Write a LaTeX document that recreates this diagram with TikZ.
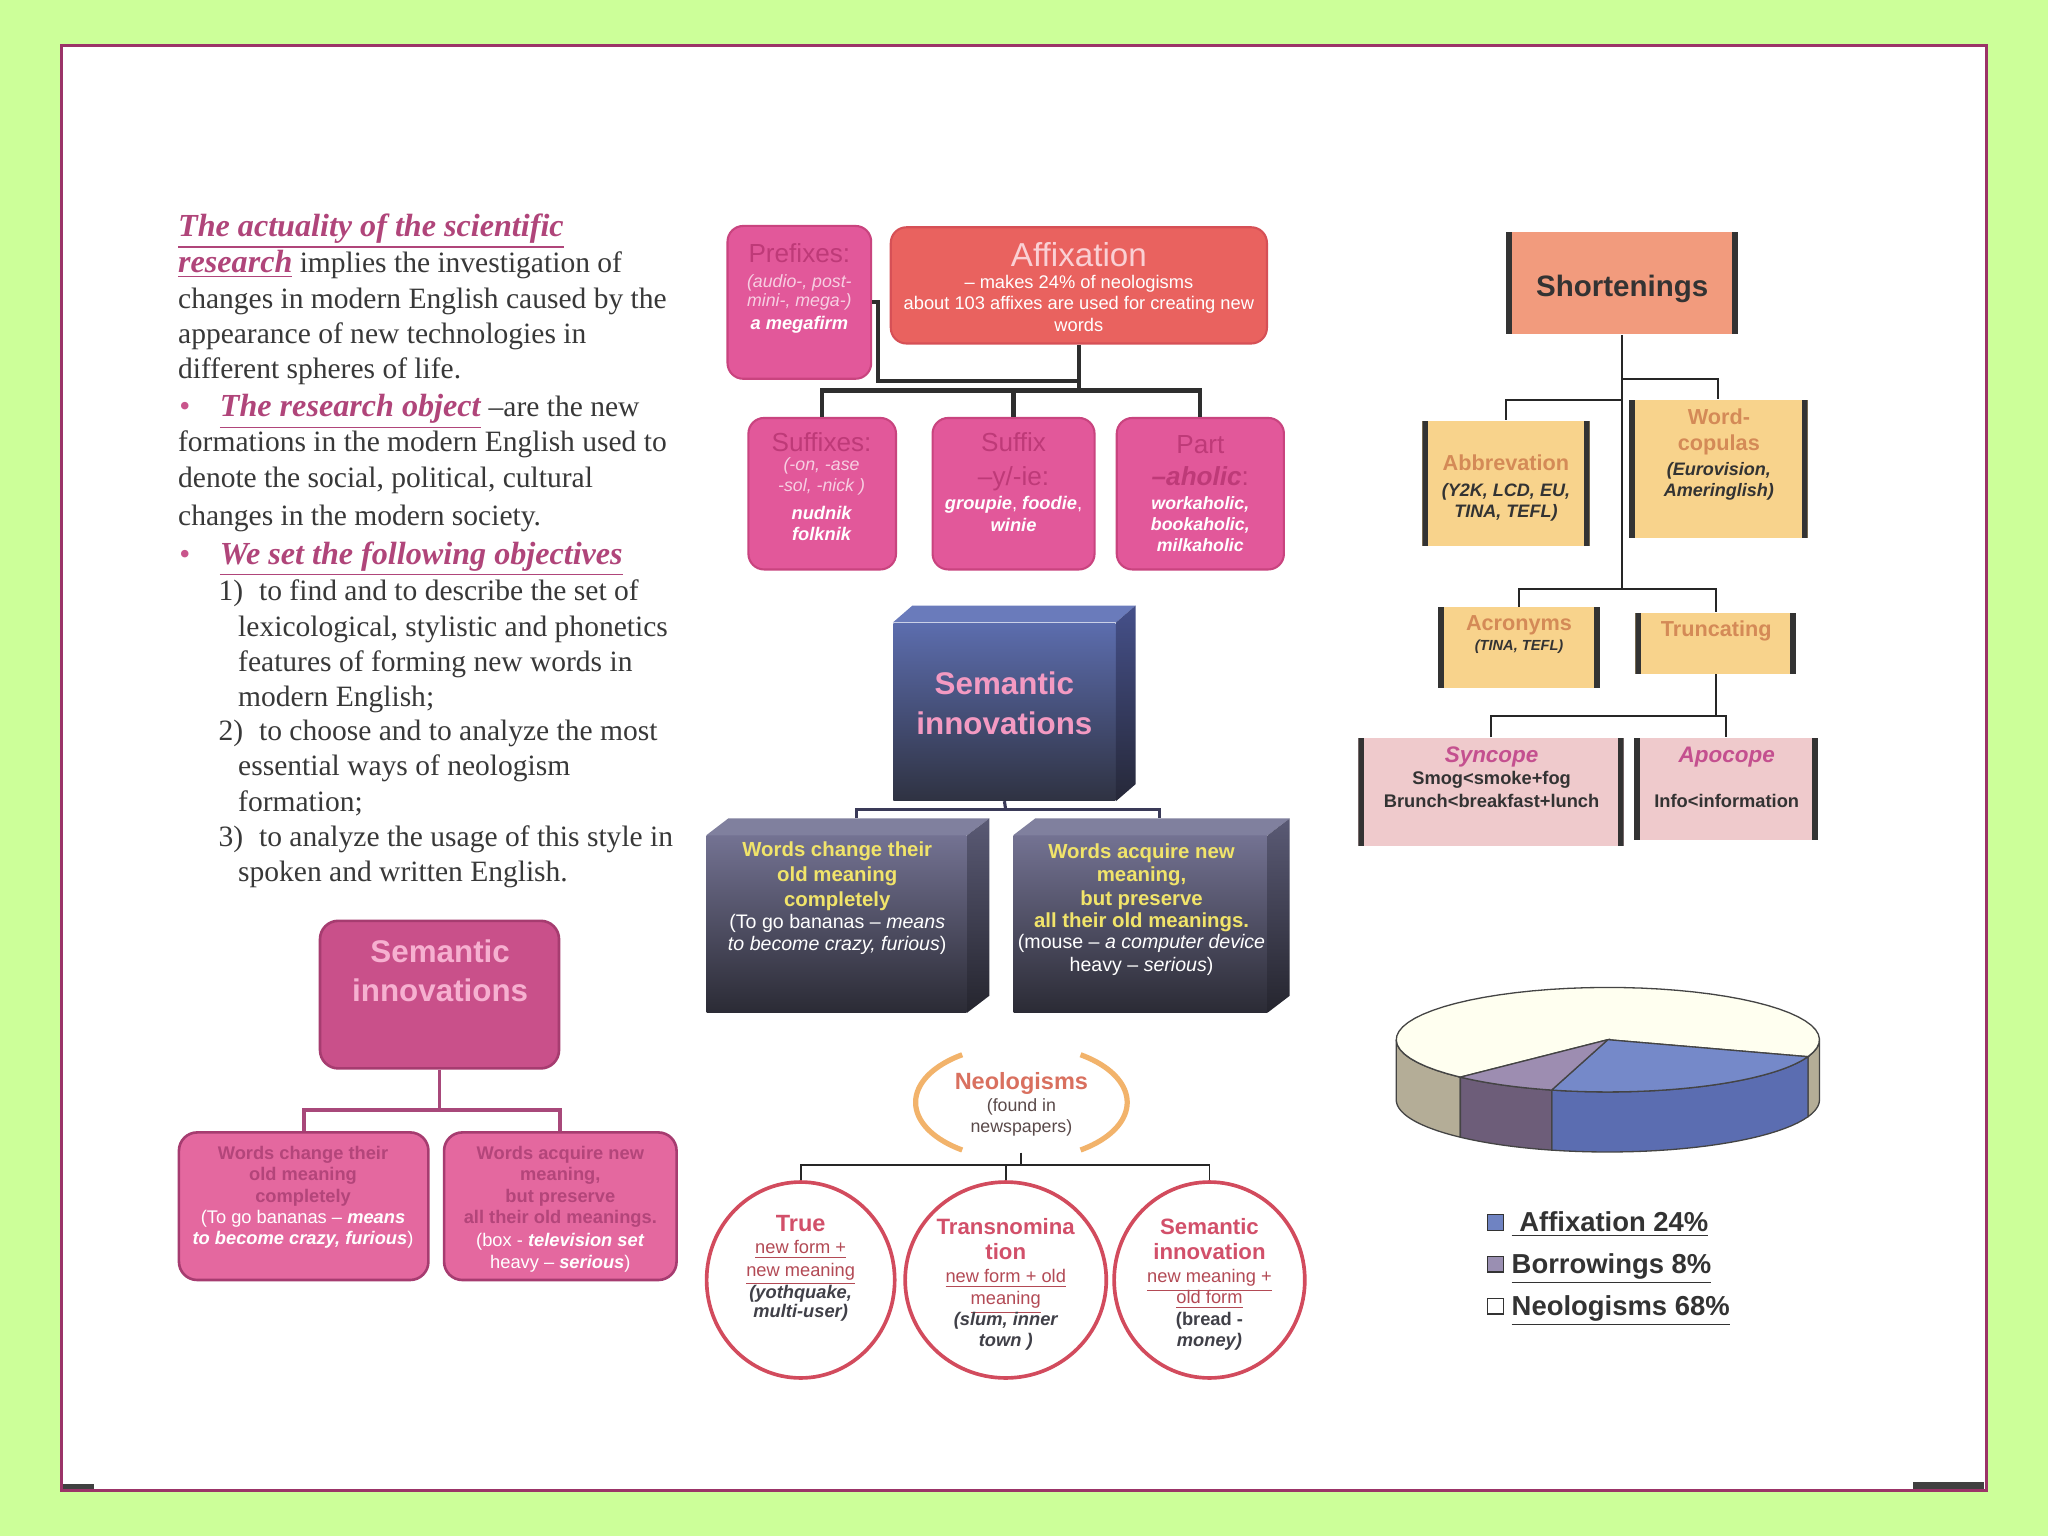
\documentclass[tikz,border=0pt]{standalone}
\usepackage{fontspec}
\setmainfont{Liberation Serif}
\setsansfont{Liberation Sans}
\usetikzlibrary{shapes.geometric}
\definecolor{bggreen}{HTML}{CCFF99}
\definecolor{framec}{HTML}{9B3468}
\definecolor{bodytxt}{HTML}{383838}
\definecolor{headc}{HTML}{B0457A}
\definecolor{bulletc}{HTML}{C9558C}
\definecolor{pinkfill}{HTML}{E2589A}
\definecolor{pinkbd}{HTML}{C9447F}
\definecolor{pinkhdr}{HTML}{BE3A78}
\definecolor{pinklt}{HTML}{F7CFE2}
\definecolor{afffill}{HTML}{E9625F}
\definecolor{affbd}{HTML}{D65056}
\definecolor{afftitle}{HTML}{FAD0D4}
\definecolor{connd}{HTML}{2E2E2E}
\definecolor{bluetop}{HTML}{5C6DAE}
\definecolor{bluebot}{HTML}{2F3242}
\definecolor{bluetf}{HTML}{6A7BBB}
\definecolor{bluest}{HTML}{45508A}
\definecolor{bluesb}{HTML}{262838}
\definecolor{graytop}{HTML}{737292}
\definecolor{graybot}{HTML}{2B2B35}
\definecolor{graytf}{HTML}{80809E}
\definecolor{grayst}{HTML}{5A5A75}
\definecolor{graysb}{HTML}{25252E}
\definecolor{semtxt}{HTML}{F49AC2}
\definecolor{ylw}{HTML}{F1E46A}
\definecolor{navyl}{HTML}{3A3A58}
\definecolor{neoarc}{HTML}{F2B36B}
\definecolor{neotxt}{HTML}{D9705F}
\definecolor{neosub}{HTML}{5A4A4A}
\definecolor{circc}{HTML}{D24B5D}
\definecolor{circtitle}{HTML}{D2506A}
\definecolor{circul}{HTML}{B34A55}
\definecolor{circex}{HTML}{404048}
\definecolor{lsfill}{HTML}{C9508A}
\definecolor{lsbd}{HTML}{A63C70}
\definecolor{lstxt}{HTML}{F6B0D0}
\definecolor{lcfill}{HTML}{E4689F}
\definecolor{lcbd}{HTML}{B8487E}
\definecolor{lcdark}{HTML}{B3457A}
\definecolor{lsline}{HTML}{A8487A}
\definecolor{shfill}{HTML}{F29B7D}
\definecolor{yfill}{HTML}{F8D38C}
\definecolor{ytitle}{HTML}{D48A57}
\definecolor{dtxt}{HTML}{333333}
\definecolor{synfill}{HTML}{EFCACC}
\definecolor{syntitle}{HTML}{C4508F}
\definecolor{barc}{HTML}{333333}
\definecolor{neotop}{HTML}{FFFFF0}
\definecolor{neoside}{HTML}{B4AD97}
\definecolor{afftop}{HTML}{7589C9}
\definecolor{affside}{HTML}{5B6DB1}
\definecolor{bortop}{HTML}{9D8DB1}
\definecolor{borside}{HTML}{6D5D79}
\definecolor{pieline}{HTML}{444444}
\definecolor{legaff}{HTML}{6F83C2}
\definecolor{legbor}{HTML}{9A8FB2}
\newcommand{\fsz}[1]{\fontsize{#1}{#1}\selectfont}
\newcommand{\hdg}[1]{{\fontsize{12.3}{13}\selectfont\textcolor{headc}{\underline{\textbf{\textit{#1}}}}}}
\newcommand{\pieside}[3]{\filldraw[#1,draw=pieline,line width=0.5pt] plot[domain=#2:#3,samples=25] ({1231+162*cos(\x)},{796+40*sin(\x)}) -- plot[domain=#3:#2,samples=25] ({1231+162*cos(\x)},{842+40*sin(\x)}) -- cycle;}
\newcommand{\pietop}[3]{\filldraw[#1,draw=pieline,line width=0.5pt] (1231,796) -- plot[domain=#2:#3,samples=50] ({1231+162*cos(\x)},{796+40*sin(\x)}) -- cycle;}
\begin{document}
\begin{tikzpicture}[x=0.5pt,y=-0.5pt,
  txt/.style={anchor=base, inner sep=0pt, font=\sffamily},
  body/.style={anchor=base west, inner sep=0pt, font=\fsz{11.3}, text=bodytxt},
  pinkbox/.style={draw=pinkbd, fill=pinkfill, line width=0.8pt, rounded corners=6pt, inner sep=0pt},
  affbox/.style={draw=affbd, fill=afffill, line width=0.8pt, rounded corners=6pt, inner sep=0pt},
  affline/.style={draw=connd, line width=1.6pt},
  bluebox/.style={top color=bluetop, bottom color=bluebot, inner sep=0pt},
  graybox/.style={top color=graytop, bottom color=graybot, inner sep=0pt},
  navyline/.style={draw=navyl, line width=1.2pt},
  thinline/.style={draw=black!85, line width=0.7pt},
  circ/.style={ellipse, draw=circc, line width=1.4pt, fill=white, inner sep=0pt, minimum height=75pt},
  lsbox/.style={draw=lsbd, fill=lsfill, line width=1pt, rounded corners=7pt, inner sep=0pt},
  lcbox/.style={draw=lsbd, fill=lcfill, line width=1pt, rounded corners=7pt, inner sep=0pt},
  barred/.style={inner sep=0pt, path picture={
     \fill[barc] (path picture bounding box.north west) rectangle ([xshift=2.3pt]path picture bounding box.south west);
     \fill[barc] ([xshift=-2.3pt]path picture bounding box.north east) rectangle (path picture bounding box.south east);}},
  legsq/.style={draw=dtxt, line width=0.6pt, minimum size=6pt, inner sep=0pt}
]
\useasboundingbox (0,0) rectangle (1568,1176);
\fill[bggreen] (0,0) rectangle (1568,1176);
\fill[white] (47,35) rectangle (1521,1141);
\draw[framec, line width=1.3pt] (47,35) rectangle (1521,1141);
\fill[black!75] (48,1136) rectangle (72,1140);
\fill[black!75] (1465,1135) rectangle (1519,1140);

% ---------------- left text ----------------
\node[body] (l1) at (136,181) {\hdg{The actuality of the scientific}};
\node[body] (l2) at (136,209) {\hdg{research} implies the investigation of};
\node[body] (l3) at (136,236) {changes in modern English caused by the};
\node[body] (l4) at (136,263) {appearance of new technologies in};
\node[body] (l5) at (136,290) {different spheres of life.};
\node[body, text=bulletc, font=\fsz{12}] (b1) at (137,319) {•};
\node[body] (l6) at (168,319) {\hdg{The research object} –are the new};
\node[body] (l7) at (136,346) {formations in the modern English used to};
\node[body] (l8) at (136,373) {denote the social, political, cultural};
\node[body] (l9) at (136,402) {changes in the modern society.};
\node[body, text=bulletc, font=\fsz{12}] (b2) at (137,432) {•};
\node[body] (l10) at (168,432) {\hdg{We set the following objectives}};
\node[body] (n1) at (167,460) {1)};
\node[body] (l11) at (198,460) {to find and to describe the set of};
\node[body] (l12) at (182,487) {lexicological, stylistic and phonetics};
\node[body] (l13) at (182,514) {features of forming new words in};
\node[body] (l14) at (182,541) {modern English;};
\node[body] (n2) at (167,567) {2)};
\node[body] (l15) at (198,567) {to choose and to analyze the most};
\node[body] (l16) at (182,594) {essential ways of neologism};
\node[body] (l17) at (182,621) {formation;};
\node[body] (n3) at (167,648) {3)};
\node[body] (l18) at (198,648) {to analyze the usage of this style in};
\node[body] (l19) at (182,675) {spoken and written English.};

% ---------------- affixation ----------------
\node[pinkbox, minimum width=55pt, minimum height=58.5pt] (pre) at (612,231.5) {};
\node[affbox, minimum width=144pt, minimum height=44.5pt] (aff) at (826,218.5) {};
\node[pinkbox, minimum width=56.5pt, minimum height=58pt] (sx1) at (629.5,378) {};
\node[pinkbox, minimum width=62pt, minimum height=58pt] (sx2) at (776,378) {};
\node[pinkbox, minimum width=64pt, minimum height=58pt] (sx3) at (919,378) {};
\coordinate (pk) at (672,292);
\coordinate (ak) at (826,292);
\coordinate (ab) at (826,299);
\draw[affline] (pre.east) -| (pk) -- (ak);
\draw[affline] (aff.south) -- (ab);
\draw[affline] (sx1.north) |- (ab) -| (sx3.north);
\draw[affline] (sx2.north) -- (sx2.north |- ab);

\node[txt, font=\sffamily\fsz{10}, text=pinkhdr] (pt1) at (612,201) {Prefixes:};
\node[txt, font=\sffamily\itshape\fsz{6.8}, text=pinklt] (pt2) at (612,220) {(audio-, post-};
\node[txt, font=\sffamily\itshape\fsz{6.8}, text=pinklt] (pt3) at (612,235) {mini-, mega-)};
\node[txt, font=\sffamily\bfseries\itshape\fsz{7}, text=white] (pt4) at (612,252) {a megafirm};

\node[txt, font=\sffamily\fsz{12.7}, text=afftitle] (at1) at (826,204) {Affixation};
\node[txt, font=\sffamily\fsz{7}, text=white] (at2) at (826,221) {– makes 24\% of neologisms};
\node[txt, font=\sffamily\fsz{7}, text=white] (at3) at (826,237) {about 103 affixes are used for creating new};
\node[txt, font=\sffamily\fsz{7}, text=white] (at4) at (826,254) {words};

\node[txt, font=\sffamily\fsz{10}, text=pinkhdr] (s1a) at (629,346) {Suffixes:};
\node[txt, font=\sffamily\itshape\fsz{6.8}, text=pinklt] (s1b) at (629,360) {(-on, -ase};
\node[txt, font=\sffamily\itshape\fsz{6.8}, text=pinklt] (s1c) at (629,376) {-sol, -nick )};
\node[txt, font=\sffamily\bfseries\itshape\fsz{7}, text=white] (s1d) at (629,398) {nudnik};
\node[txt, font=\sffamily\bfseries\itshape\fsz{7}, text=white] (s1e) at (629,414) {folknik};

\node[txt, font=\sffamily\fsz{10}, text=pinkhdr] (s2a) at (776,346) {Suffix};
\node[txt, font=\sffamily\fsz{10}, text=pinkhdr] (s2b) at (776,372) {–y/-ie:};
\node[txt, font=\sffamily\fsz{7}, text=white] (s2c) at (776,390) {\textbf{\textit{groupie}}, \textbf{\textit{foodie}},};
\node[txt, font=\sffamily\bfseries\itshape\fsz{7}, text=white] (s2d) at (776,407) {winie};

\node[txt, font=\sffamily\fsz{10}, text=pinkhdr] (s3a) at (919,347) {Part};
\node[txt, font=\sffamily\fsz{10}, text=pinkhdr] (s3b) at (919,372) {\textbf{\textit{–aholic}}:};
\node[txt, font=\sffamily\bfseries\itshape\fsz{6.8}, text=white] (s3c) at (919,390) {workaholic,};
\node[txt, font=\sffamily\bfseries\itshape\fsz{6.8}, text=white] (s3d) at (919,406) {bookaholic,};
\node[txt, font=\sffamily\bfseries\itshape\fsz{6.8}, text=white] (s3e) at (919,422) {milkaholic};

% ---------------- blue semantic innovations ----------------
\node[bluebox, minimum width=85pt, minimum height=68pt] (sb) at (769,545) {};
\fill[bluetf] (sb.north west) -- ++(15,-13) -- ([shift={(15,-13)}]sb.north east) -- (sb.north east) -- cycle;
\shade[top color=bluest, bottom color=bluesb] (sb.north east) -- ++(15,-13) -- ([shift={(15,-13)}]sb.south east) -- (sb.south east) -- cycle;
\node[txt, font=\sffamily\bfseries\fsz{12}, text=semtxt] (sbt1) at (769,532) {Semantic};
\node[txt, font=\sffamily\bfseries\fsz{12}, text=semtxt] (sbt2) at (769,562) {innovations};

\node[graybox, minimum width=99.5pt, minimum height=67.5pt] (g1) at (640.5,707.5) {};
\fill[graytf] (g1.north west) -- ++(17,-13) -- ([shift={(17,-13)}]g1.north east) -- (g1.north east) -- cycle;
\shade[top color=grayst, bottom color=graysb] (g1.north east) -- ++(17,-13) -- ([shift={(17,-13)}]g1.south east) -- (g1.south east) -- cycle;
\node[graybox, minimum width=97pt, minimum height=67.5pt] (g2) at (873,707.5) {};
\fill[graytf] (g2.north west) -- ++(17,-13) -- ([shift={(17,-13)}]g2.north east) -- (g2.north east) -- cycle;
\shade[top color=grayst, bottom color=graysb] (g2.north east) -- ++(17,-13) -- ([shift={(17,-13)}]g2.south east) -- (g2.south east) -- cycle;
\coordinate (sj) at (770,620);
\coordinate (g1t) at ([shift={(15,-13)}]g1.north);
\coordinate (g2t) at ([shift={(15,-13)}]g2.north);
\draw[navyline] (sb.south) -- (sj);
\draw[navyline] (g1t) |- (sj) -| (g2t);

\node[txt, font=\sffamily\bfseries\fsz{7.8}, text=ylw] (ga1) at (641,656) {Words change their};
\node[txt, font=\sffamily\bfseries\fsz{7.8}, text=ylw] (ga2) at (641,675) {old meaning};
\node[txt, font=\sffamily\bfseries\fsz{7.8}, text=ylw] (ga3) at (641,694) {completely};
\node[txt, font=\sffamily\fsz{7.5}, text=white] (ga4) at (641,711) {(To go bananas – \textit{means}};
\node[txt, font=\sffamily\fsz{7.5}, text=white] (ga5) at (641,728) {\textit{to become crazy, furious})};
\node[txt, font=\sffamily\bfseries\fsz{7.8}, text=ylw] (gb1) at (874,657) {Words acquire new};
\node[txt, font=\sffamily\bfseries\fsz{7.8}, text=ylw] (gb2) at (874,675) {meaning,};
\node[txt, font=\sffamily\bfseries\fsz{7.8}, text=ylw] (gb3) at (874,693) {but preserve};
\node[txt, font=\sffamily\bfseries\fsz{7.8}, text=ylw] (gb4) at (874,710) {all their old meanings.};
\node[txt, font=\sffamily\fsz{7.5}, text=white] (gb5) at (874,726) {(mouse – \textit{a computer device}};
\node[txt, font=\sffamily\fsz{7.5}, text=white] (gb6) at (874,744) {heavy – \textit{serious})};

% ---------------- neologisms ----------------
\node[inner sep=0pt, minimum width=80pt, minimum height=38pt] (neo) at (782,844) {};
\draw[neoarc, line width=2pt] plot[domain=124:236, samples=40] ({782+81*cos(\x)},{844+44*sin(\x)});
\draw[neoarc, line width=2pt] plot[domain=-56:56, samples=40] ({782+81*cos(\x)},{844+44*sin(\x)});
\node[txt, font=\sffamily\bfseries\fsz{9}, text=neotxt] (nt1) at (782,834) {Neologisms};
\node[txt, font=\sffamily\fsz{6.8}, text=neosub] (nt2) at (782,851) {(found in};
\node[txt, font=\sffamily\fsz{6.8}, text=neosub] (nt3) at (782,867) {newspapers)};

\node[circ, minimum width=72pt] (c1) at (613,980) {};
\node[circ, minimum width=77pt] (c2) at (770,980) {};
\node[circ, minimum width=73pt] (c3) at (926,980) {};
\coordinate (nj) at (782,892);
\draw[thinline] (neo.south) -- (nj);
\draw[thinline] (c1.north) |- (nj) -| (c3.north);
\draw[thinline] (c2.north) -- (c2.north |- nj);

\node[txt, font=\sffamily\bfseries\fsz{9}, text=circtitle] (ca1) at (613,943) {True};
\node[txt, font=\sffamily\fsz{7}, text=circul] (ca2) at (613,960) {\underline{new form +}};
\node[txt, font=\sffamily\fsz{7}, text=circul] (ca3) at (613,977) {\underline{new meaning}};
\node[txt, font=\sffamily\bfseries\itshape\fsz{7}, text=circex] (ca4) at (613,994) {(yothquake,};
\node[txt, font=\sffamily\bfseries\itshape\fsz{7}, text=circex] (ca5) at (613,1009) {multi-user)};

\node[txt, font=\sffamily\bfseries\fsz{8.5}, text=circtitle] (cb1) at (770,945) {Transnomina};
\node[txt, font=\sffamily\bfseries\fsz{8.5}, text=circtitle] (cb2) at (770,964) {tion};
\node[txt, font=\sffamily\fsz{7}, text=circul] (cb3) at (770,982) {\underline{new form + old}};
\node[txt, font=\sffamily\fsz{7}, text=circul] (cb4) at (770,999) {\underline{meaning}};
\node[txt, font=\sffamily\bfseries\itshape\fsz{7}, text=circex] (cb5) at (770,1015) {(slum, inner};
\node[txt, font=\sffamily\bfseries\itshape\fsz{7}, text=circex] (cb6) at (770,1031) {town )};

\node[txt, font=\sffamily\bfseries\fsz{8.5}, text=circtitle] (cc1) at (926,945) {Semantic};
\node[txt, font=\sffamily\bfseries\fsz{8.5}, text=circtitle] (cc2) at (926,964) {innovation};
\node[txt, font=\sffamily\fsz{7}, text=circul] (cc3) at (926,982) {\underline{new meaning +}};
\node[txt, font=\sffamily\fsz{7}, text=circul] (cc4) at (926,998) {\underline{old form}};
\node[txt, font=\sffamily\bfseries\fsz{7}, text=circex] (cc5) at (926,1015) {(bread -};
\node[txt, font=\sffamily\bfseries\itshape\fsz{7}, text=circex] (cc6) at (926,1031) {money)};

% ---------------- left bottom pink ----------------
\node[lsbox, minimum width=91.5pt, minimum height=56.5pt] (ls) at (336.5,761.5) {};
\node[lcbox, minimum width=95.5pt, minimum height=56.5pt] (lc1) at (232.5,923.5) {};
\node[lcbox, minimum width=89pt, minimum height=56.5pt] (lc2) at (429,923.5) {};
\coordinate (lj) at (336.5,850);
\draw[lsline, line width=1.5pt] (ls.south) -- (lj);
\draw[lsline, line width=1.5pt] (lc1.north) |- (lj) -| (lc2.north);
\node[txt, font=\sffamily\bfseries\fsz{12}, text=lstxt] (lst1) at (337,737) {Semantic};
\node[txt, font=\sffamily\bfseries\fsz{12}, text=lstxt] (lst2) at (337,767) {innovations};
\node[txt, font=\sffamily\bfseries\fsz{7}, text=lcdark] (la1) at (232,888) {Words change their};
\node[txt, font=\sffamily\bfseries\fsz{7}, text=lcdark] (la2) at (232,904) {old meaning};
\node[txt, font=\sffamily\bfseries\fsz{7}, text=lcdark] (la3) at (232,921) {completely};
\node[txt, font=\sffamily\fsz{7}, text=white] (la4) at (232,937) {(To go bananas – \textbf{\textit{means}}};
\node[txt, font=\sffamily\fsz{7}, text=white] (la5) at (232,953) {\textbf{\textit{to become crazy, furious}})};
\node[txt, font=\sffamily\bfseries\fsz{7}, text=lcdark] (lb1) at (429,888) {Words acquire new};
\node[txt, font=\sffamily\bfseries\fsz{7}, text=lcdark] (lb2) at (429,904) {meaning,};
\node[txt, font=\sffamily\bfseries\fsz{7}, text=lcdark] (lb3) at (429,921) {but preserve};
\node[txt, font=\sffamily\bfseries\fsz{7}, text=lcdark] (lb4) at (429,937) {all their old meanings.};
\node[txt, font=\sffamily\fsz{7}, text=white] (lb5) at (429,954) {(box - \textbf{\textit{television set}}};
\node[txt, font=\sffamily\fsz{7}, text=white] (lb6) at (429,971) {heavy – \textbf{\textit{serious}})};

% ---------------- shortenings ----------------
\node[barred, fill=shfill, minimum width=89pt, minimum height=39pt] (sh) at (1242,217) {};
\node[barred, fill=yfill, minimum width=64pt, minimum height=48pt] (abv) at (1153,370) {};
\node[barred, fill=yfill, minimum width=68.5pt, minimum height=53pt] (wc) at (1315.5,359) {};
\node[barred, fill=yfill, minimum width=62pt, minimum height=31pt] (acr) at (1163,496) {};
\node[barred, fill=yfill, minimum width=61.5pt, minimum height=23.5pt] (trc) at (1313.5,492.5) {};
\node[barred, fill=synfill, minimum width=101.5pt, minimum height=41.5pt] (syn) at (1141.5,606.5) {};
\node[barred, fill=synfill, minimum width=70.5pt, minimum height=39pt] (apo) at (1321.5,604) {};
\coordinate (j1) at (1242,290);
\coordinate (j2) at (1242,306);
\coordinate (j3) at (1242,451);
\coordinate (j4) at (1313.5,548);
\draw[thinline] (sh.south) -- (j3);
\draw[thinline] (j1) -| (wc.north);
\draw[thinline] (j2) -| (abv.north);
\draw[thinline] (acr.north) |- (j3) -| (trc.north);
\draw[thinline] (trc.south) -- (j4);
\draw[thinline] (syn.north) |- (j4) -| (apo.north);

\node[txt, font=\sffamily\bfseries\fsz{11.3}, text=dtxt] (sht) at (1242,227) {Shortenings};
\node[txt, font=\sffamily\bfseries\fsz{8.3}, text=ytitle] (ab1) at (1153,360) {Abbrevation};
\node[txt, font=\sffamily\bfseries\itshape\fsz{6.9}, text=dtxt] (ab2) at (1153,380) {(Y2K, LCD, EU,};
\node[txt, font=\sffamily\bfseries\itshape\fsz{6.9}, text=dtxt] (ab3) at (1153,396) {TINA, TEFL)};
\node[txt, font=\sffamily\bfseries\fsz{8.3}, text=ytitle] (wc1) at (1316,325) {Word-};
\node[txt, font=\sffamily\bfseries\fsz{8.3}, text=ytitle] (wc2) at (1316,345) {copulas};
\node[txt, font=\sffamily\bfseries\itshape\fsz{6.9}, text=dtxt] (wc3) at (1316,364) {(Eurovision,};
\node[txt, font=\sffamily\bfseries\itshape\fsz{6.9}, text=dtxt] (wc4) at (1316,380) {Ameringlish)};
\node[txt, font=\sffamily\bfseries\fsz{8.3}, text=ytitle] (ac1) at (1163,483) {Acronyms};
\node[txt, font=\sffamily\bfseries\itshape\fsz{5.6}, text=dtxt] (ac2) at (1163,498) {(TINA, TEFL)};
\node[txt, font=\sffamily\bfseries\fsz{8.3}, text=ytitle] (tr1) at (1314,487) {Truncating};
\node[txt, font=\sffamily\bfseries\itshape\fsz{8.6}, text=syntitle] (sy1) at (1142,584) {Syncope};
\node[txt, font=\sffamily\bfseries\fsz{7}, text=dtxt] (sy2) at (1142,601) {Smog<smoke+fog};
\node[txt, font=\sffamily\bfseries\fsz{7}, text=dtxt] (sy3) at (1142,618) {Brunch<breakfast+lunch};
\node[txt, font=\sffamily\bfseries\itshape\fsz{8.6}, text=syntitle] (ap1) at (1322,584) {Apocope};
\node[txt, font=\sffamily\bfseries\fsz{7}, text=dtxt] (ap2) at (1322,618) {Info<information};

% ---------------- pie chart ----------------
\pieside{fill=neoside}{134.2}{180}
\pieside{fill=neoside}{0}{19}
\pieside{fill=affside}{19}{105.4}
\pieside{fill=borside}{105.4}{134.2}
\pietop{fill=neotop}{134.2}{379}
\pietop{fill=afftop}{19}{105.4}
\pietop{fill=bortop}{105.4}{134.2}

\node[legsq, fill=legaff] (lg1) at (1145,936) {};
\node[legsq, fill=legbor] (lg2) at (1145,968) {};
\node[legsq, fill=white] (lg3) at (1145,1000) {};
\node[anchor=base west, inner sep=0pt, font=\sffamily\bfseries\fsz{10.5}, text=dtxt] (lt1) at (1157,943) {\underline{\ Affixation 24\%}};
\node[anchor=base west, inner sep=0pt, font=\sffamily\bfseries\fsz{10.5}, text=dtxt] (lt2) at (1157,975) {\underline{Borrowings 8\%}};
\node[anchor=base west, inner sep=0pt, font=\sffamily\bfseries\fsz{10.5}, text=dtxt] (lt3) at (1157,1007) {\underline{Neologisms 68\%}};
\end{tikzpicture}
\end{document}
